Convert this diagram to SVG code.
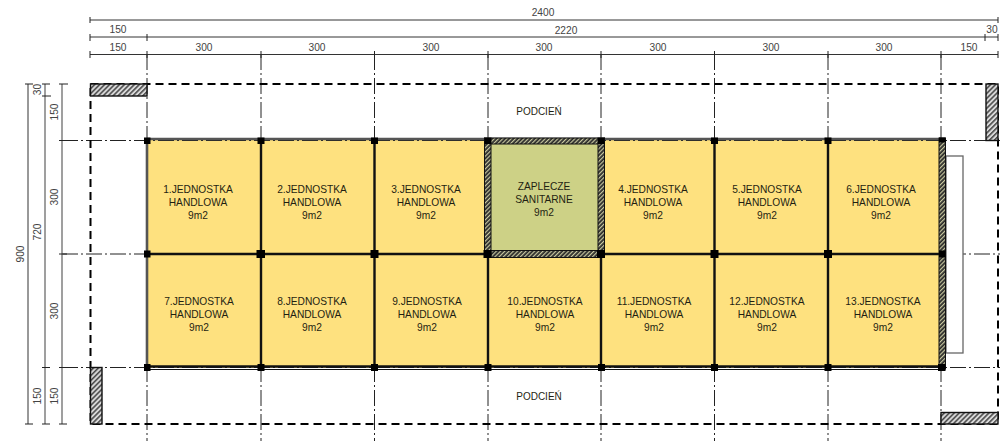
<svg xmlns="http://www.w3.org/2000/svg" width="1002" height="441" viewBox="0 0 1002 441">
<style>
text{font-family:"Liberation Sans",Arial,sans-serif;text-anchor:middle}
.r{font-size:10.2px;fill:#1f1f12}
.p{font-size:10px;fill:#1f1f12}
.d{font-size:10.2px;fill:#444}
.room{fill:#fee17f}
.dim{fill:none;stroke:#333;stroke-width:1}
.dimg{fill:none;stroke:#777;stroke-width:1.4}
.tick{fill:none;stroke:#222;stroke-width:1}
.axis{fill:none;stroke:#222;stroke-width:1;stroke-dasharray:16 3 2 3}
.out{fill:none;stroke:#000;stroke-width:2;stroke-dasharray:8 5}
.h{fill:url(#hatch);stroke:#111;stroke-width:1.4}
.hd{fill:url(#hatchd);stroke:#111;stroke-width:1}
.col{fill:#000}
.wall{stroke:#111;stroke-width:2.4;fill:none}
.wallg{stroke:#555;stroke-width:2.6;fill:none}
</style>
<defs>
<pattern id="hatch" width="3.5" height="3.5" patternUnits="userSpaceOnUse" patternTransform="rotate(45)">
<rect width="3.5" height="3.5" fill="#d8d8d8"/><rect width="1.5" height="3.5" fill="#444"/>
</pattern>
<pattern id="hatchd" width="3" height="3" patternUnits="userSpaceOnUse" patternTransform="rotate(45)">
<rect width="3" height="3" fill="#2a2a2a"/><rect width="1.2" height="3" fill="#c9c9a0"/>
</pattern>
</defs>

<g id="rooms">
<g id="room-1"><rect class="room" x="147" y="140" width="114" height="114"/><text class="r" x="198" y="193">1.JEDNOSTKA</text><text class="r" x="198" y="206">HANDLOWA</text><text class="r" x="198" y="219">9m2</text></g>
<g id="room-2"><rect class="room" x="261" y="140" width="114" height="114"/><text class="r" x="312" y="193">2.JEDNOSTKA</text><text class="r" x="312" y="206">HANDLOWA</text><text class="r" x="312" y="219">9m2</text></g>
<g id="room-3"><rect class="room" x="375" y="140" width="113" height="114"/><text class="r" x="426" y="193">3.JEDNOSTKA</text><text class="r" x="426" y="206">HANDLOWA</text><text class="r" x="426" y="219">9m2</text></g>
<g id="room-z"><rect x="488" y="140" width="113" height="114" fill="#cdd186"/><text class="r" x="544" y="190">ZAPLECZE</text><text class="r" x="544" y="203">SANITARNE</text><text class="r" x="544" y="216">9m2</text></g>
<g id="room-4"><rect class="room" x="601" y="140" width="114" height="114"/><text class="r" x="653" y="193">4.JEDNOSTKA</text><text class="r" x="653" y="206">HANDLOWA</text><text class="r" x="653" y="219">9m2</text></g>
<g id="room-5"><rect class="room" x="715" y="140" width="113" height="114"/><text class="r" x="767" y="193">5.JEDNOSTKA</text><text class="r" x="767" y="206">HANDLOWA</text><text class="r" x="767" y="219">9m2</text></g>
<g id="room-6"><rect class="room" x="828" y="140" width="113" height="114"/><text class="r" x="881" y="193">6.JEDNOSTKA</text><text class="r" x="881" y="206">HANDLOWA</text><text class="r" x="881" y="219">9m2</text></g>
<g id="room-7"><rect class="room" x="147" y="254" width="114" height="114"/><text class="r" x="199" y="305">7.JEDNOSTKA</text><text class="r" x="199" y="318">HANDLOWA</text><text class="r" x="199" y="331">9m2</text></g>
<g id="room-8"><rect class="room" x="261" y="254" width="114" height="114"/><text class="r" x="312" y="305">8.JEDNOSTKA</text><text class="r" x="312" y="318">HANDLOWA</text><text class="r" x="312" y="331">9m2</text></g>
<g id="room-9"><rect class="room" x="375" y="254" width="113" height="114"/><text class="r" x="427" y="305">9.JEDNOSTKA</text><text class="r" x="427" y="318">HANDLOWA</text><text class="r" x="427" y="331">9m2</text></g>
<g id="room-10"><rect class="room" x="488" y="254" width="113" height="114"/><text class="r" x="545" y="305">10.JEDNOSTKA</text><text class="r" x="545" y="318">HANDLOWA</text><text class="r" x="545" y="331">9m2</text></g>
<g id="room-11"><rect class="room" x="601" y="254" width="114" height="114"/><text class="r" x="654" y="305">11.JEDNOSTKA</text><text class="r" x="654" y="318">HANDLOWA</text><text class="r" x="654" y="331">9m2</text></g>
<g id="room-12"><rect class="room" x="715" y="254" width="113" height="114"/><text class="r" x="767" y="305">12.JEDNOSTKA</text><text class="r" x="767" y="318">HANDLOWA</text><text class="r" x="767" y="331">9m2</text></g>
<g id="room-13"><rect class="room" x="828" y="254" width="113" height="114"/><text class="r" x="883" y="305">13.JEDNOSTKA</text><text class="r" x="883" y="318">HANDLOWA</text><text class="r" x="883" y="331">9m2</text></g>
</g>

<g id="connectors">
<g id="axes">
<path class="axis" d="M147 54V441M261 54V441M374.500 54V441M488 54V441M601 54V441M714.500 54V441M828 54V441M941 54V441"/>
<path class="axis" d="M62 140.500H1000M62 254H1000M62 367.500H1000"/>
</g>
<g id="outline"><rect class="out" x="90.500" y="84" width="907.500" height="340"/></g>
<g id="dims-h">
<path class="dim" d="M90 20H998M90 37H147M147 37H985M985 37H998M90 54.500H998"/>
<path class="tick" d="M90 17V23M998 17V23M90 34V41M147 34V41M985 34V41M998 34V41M90 51V58M147 51V58M261 51V58M374.500 51V58M488 51V58M601 51V58M714.500 51V58M828 51V58M941 51V58M998 51V58"/>
</g>
<g id="dims-v">
<path class="dim" d="M28 84V424"/>
<path class="dimg" d="M45 84V424M62 84V424"/>
<path class="tick" d="M25 84H33M42 84H50M59 84H68M42 96H51M59 140.500H67M59 254H67M42 367.500H50M59 367.500H67M25 424H33M42 424H50M59 424H67"/>
</g>
</g>

<g id="walls">
<path class="wallg" d="M147 139H941M147 140V367"/>
<path class="wall" d="M261 140V367M374.500 140V367M714.500 140V367M828 140V367M488 254V367M601 254V367M147 254H488M601 254H941M147 366.500H941"/>
<path d="M147 369.500H941" stroke="#111" stroke-width="1" fill="none"/>
<rect id="ramp" x="946" y="156" width="17" height="197" fill="#fff" stroke="#666" stroke-width="1.300"/>
</g>
<g id="hatched">
<rect class="hd" x="484.500" y="138" width="120" height="6"/>
<rect class="hd" x="484.500" y="250.500" width="120" height="7"/>
<rect class="hd" x="484.500" y="138" width="6.500" height="119"/>
<rect class="hd" x="598" y="138" width="6.500" height="119"/>
<rect class="hd" x="939" y="138" width="6.500" height="231"/>
<rect class="h" x="90.500" y="84" width="56.500" height="12"/>
<rect class="h" x="986" y="84" width="12" height="56.500"/>
<rect class="h" x="90.500" y="367.500" width="11.500" height="56.500"/>
<rect class="h" x="941" y="412.500" width="57" height="11.500"/>
</g>
<g id="columns">
<path class="col" d="M144 137.500h6.500v6.500h-6.500zM257.500 137.500h7v6.500h-7zM371 137.500h7v6.500h-7zM484.500 138h6.500v6h-6.500zM598 138h6.500v6h-6.500zM711 137.500h7v6.500h-7zM824.500 137.500h7v6.500h-7zM939 137.500h6.500v5h-6.500z"/>
<path class="col" d="M144 250.500h6.500v7h-6.500zM256.500 250h8.500v8h-8.500zM370.500 250h8v8h-8zM483.500 250h8v8h-8zM597 250h8v8h-8zM710.500 250h8v8h-8zM824 250h8v8h-8zM939 250.500h6.500v7h-6.500z"/>
<path class="col" d="M144 364h6.500v7h-6.500zM257.500 364h7v7h-7zM371 364h7v7h-7zM484.500 364h7v7h-7zM598 364h7v7h-7zM711 364h7v7h-7zM824.500 364h7v7h-7zM938 364h7.500v7h-7.500z"/>
</g>
<g id="labels">
<text class="p" x="539" y="115">PODCIEŃ</text>
<text class="p" x="539" y="400">PODCIEŃ</text>
<text class="d" x="543" y="16">2400</text>
<text class="d" x="118" y="33">150</text>
<text class="d" x="566" y="34">2220</text>
<text class="d" x="992" y="33">30</text>
<text class="d" x="118" y="51">150</text>
<text class="d" x="204" y="51">300</text>
<text class="d" x="317" y="51">300</text>
<text class="d" x="431" y="51">300</text>
<text class="d" x="544" y="51">300</text>
<text class="d" x="658" y="51">300</text>
<text class="d" x="771" y="51">300</text>
<text class="d" x="884" y="51">300</text>
<text class="d" x="969" y="51">150</text>
<text class="d" transform="translate(24 254) rotate(-90)">900</text>
<text class="d" transform="translate(41 89.500) rotate(-90)">30</text>
<text class="d" transform="translate(41 232) rotate(-90)">720</text>
<text class="d" transform="translate(41 396) rotate(-90)">150</text>
<text class="d" transform="translate(58 112) rotate(-90)">150</text>
<text class="d" transform="translate(58 197) rotate(-90)">300</text>
<text class="d" transform="translate(58 311) rotate(-90)">300</text>
<text class="d" transform="translate(58 396) rotate(-90)">150</text>
</g>
</svg>
